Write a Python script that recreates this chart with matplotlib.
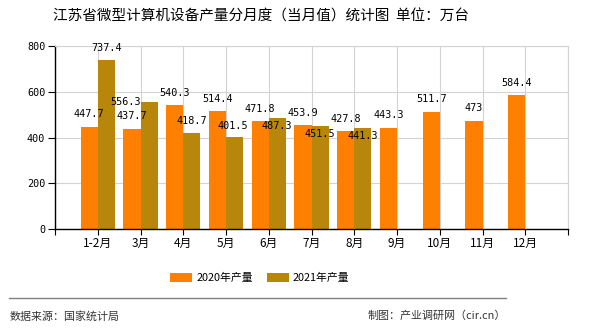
import matplotlib
matplotlib.use("Agg")
import matplotlib.pyplot as plt
import numpy as np

plt.rcParams['font.family'] = ['Noto Sans CJK SC', 'DejaVu Sans']

# 江苏省微型计算机设备产量（万台）
months = ['1-2月', '3月', '4月', '5月', '6月', '7月', '8月', '9月', '10月', '11月', '12月']
output_2020 = [447.7, 437.7, 540.3, 514.4, 471.8, 453.9, 427.8, 443.3, 511.7, 473, 584.4]
output_2021 = [737.4, 556.3, 418.7, 401.5, 487.3, 451.5, 441.3]

# 2021年数据标签的偏移（点），避免与2020年标签重叠
offsets_2021 = [(0, 9), (-17, 0), (0, 9), (-1, 8), (0, -6), (0, -6), (0, -6)]

c2020 = '#FF8000'
c2021 = '#B8860B'
grid_c = '#D3D3D3'
num_font = ['DejaVu Sans Mono', 'Noto Sans CJK SC']

fig = plt.figure(figsize=(5.9, 3.3), dpi=100)
ax = fig.add_axes([55 / 590, 1 - 229 / 330, 513 / 590, 183 / 330])

x = np.arange(len(months))
w = 0.4
b1 = ax.bar(x - w / 2, output_2020, width=w, color=c2020, label='2020年产量', zorder=2)
x21 = x[:len(output_2021)]
b2 = ax.bar(x21 + w / 2, output_2021, width=w, color=c2021, label='2021年产量', zorder=2)

for xi, v in zip(x, output_2020):
    ax.annotate(f'{v:g}', (xi - w / 2, v), xytext=(0, 9), textcoords='offset points',
                ha='center', va='center', fontsize=7.3, family=num_font, zorder=3)
for xi, v, off in zip(x21, output_2021, offsets_2021):
    ax.annotate(f'{v:g}', (xi + w / 2, v), xytext=off, textcoords='offset points',
                ha='center', va='center', fontsize=7.3, family=num_font, zorder=3)

ax.set_xlim(-1, len(months))
ax.set_ylim(0, 800)
ax.set_yticks([0, 200, 400, 600, 800])
ax.set_xticks(np.arange(-1, len(months) + 1))
ax.set_xticklabels([''] + months + [''])
ax.tick_params(axis='x', length=4, labelsize=8.5, pad=2)
ax.tick_params(axis='y', length=5, labelsize=7.3, pad=2)
for lab in ax.get_yticklabels():
    lab.set_family(num_font)

ax.grid(True, color=grid_c, linewidth=0.8, zorder=0)
ax.set_axisbelow(True)
for s in ['top', 'right']:
    ax.spines[s].set_color(grid_c)
for s in ['left', 'bottom']:
    ax.spines[s].set_color('black')
    ax.spines[s].set_linewidth(1)

fig.text(0.442, 1 - 17 / 330, '江苏省微型计算机设备产量分月度（当月值）统计图  单位：万台',
         ha='center', va='center', fontsize=10.5)

fig.legend(handles=[b1, b2], loc='center', bbox_to_anchor=(260 / 590, 1 - 278 / 330),
           ncol=2, frameon=False, fontsize=7.8, handlelength=2.0, handleheight=0.9,
           columnspacing=1.3, handletextpad=0.4)

fig.add_artist(plt.Line2D([9 / 590, 506 / 590], [1 - 298 / 330] * 2,
                          color='#808080', linewidth=1))
fig.text(10 / 590, 1 - 316 / 330, '数据来源：国家统计局', ha='left', va='center',
         fontsize=7.9, color='#333333')
fig.text(506 / 590, 1 - 316 / 330, '制图：产业调研网（cir.cn）', ha='right', va='center',
         fontsize=7.9, color='#333333')

fig.savefig('out.png', dpi=100)
